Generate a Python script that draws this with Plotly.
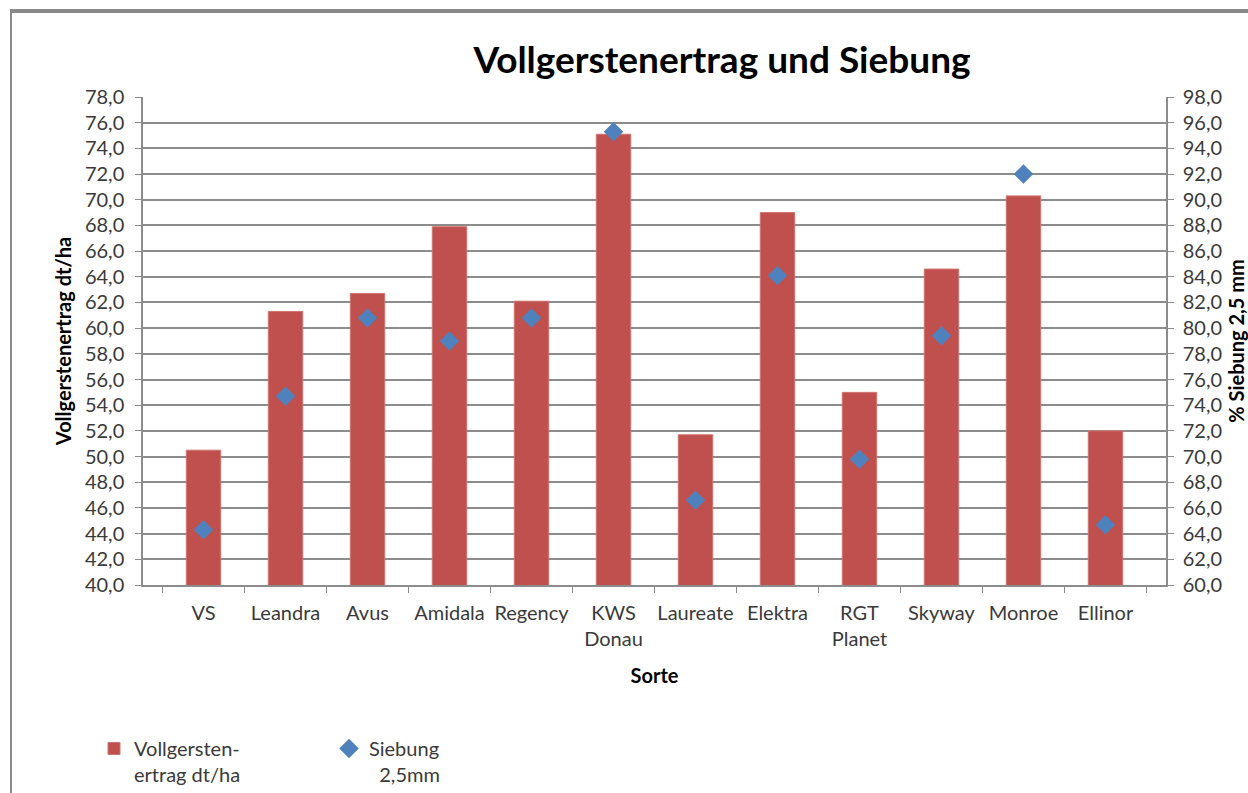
import plotly.graph_objects as go

sorten = ["VS", "Leandra", "Avus", "Amidala", "Regency", "KWS<br>Donau", "Laureate",
          "Elektra", "RGT<br>Planet", "Skyway", "Monroe", "Ellinor"]
ertrag = [50.5, 61.3, 62.7, 67.9, 62.1, 75.1, 51.7, 69.0, 55.0, 64.6, 70.3, 52.0]
siebung = [64.3, 74.7, 80.8, 79.0, 80.8, 95.3, 66.6, 84.1, 69.8, 79.4, 92.0, 64.7]

FONT = "Lato"
TXT = "#3a3a3a"
GRID = "#8c8c8c"
FS = 20

fig = go.Figure()
fig.add_trace(go.Bar(
    x=sorten, y=ertrag, name="Vollgersten-<br>ertrag dt/ha",
    marker=dict(color="#C0504D", line=dict(color="#D07470", width=1)),
    yaxis="y",
))
fig.add_trace(go.Scatter(
    x=sorten, y=siebung, name="Siebung<br>\u00a0\u00a02,5mm", mode="markers",
    marker=dict(symbol="diamond", color="#4F81BD", size=15),
    yaxis="y2",
))

fig.update_layout(
    width=1248, height=793,
    paper_bgcolor="white", plot_bgcolor="white",
    separators=",.",
    margin=dict(l=143, r=82, t=97, b=208, autoexpand=False),
    font=dict(family=FONT, size=FS, color=TXT),
    title=dict(text="<b>Vollgerstenertrag und Siebung</b>", x=0.5785, xanchor="center",
               y=1 - 60 / 793, yanchor="middle",
               font=dict(family=FONT, size=37, color="#000000")),
    bargap=0.58,
    showlegend=True,
    legend=dict(orientation="h", xref="container", yref="container",
                x=94 / 1248, xanchor="left", y=1 - 729 / 793, yanchor="top",
                font=dict(family=FONT, size=FS, color=TXT),
                entrywidth=190, entrywidthmode="pixels", valign="top",
                traceorder="normal"),
    xaxis=dict(
        type="category", showline=True, linecolor=GRID, linewidth=1.5,
        ticks="outside", tickson="boundaries", ticklen=6, tickcolor=GRID,
        showgrid=False, automargin=False, ticklabelstandoff=9, tickangle=0,
        title=dict(text="<b>Sorte</b>", standoff=20, font=dict(size=FS, color="#000")),
        tickfont=dict(size=FS, color=TXT),
    ),
    yaxis=dict(
        range=[40, 78], dtick=2, tickformat=".1f",
        showline=True, linecolor=GRID, linewidth=1.5,
        ticks="outside", ticklen=6, tickcolor=GRID,
        showgrid=True, gridcolor=GRID, gridwidth=1.5,
        zeroline=False, automargin=False, ticklabelstandoff=7,
        title=dict(text="<b>Vollgerstenertrag dt/ha</b>", standoff=8,
                   font=dict(size=FS, color="#000")),
        tickfont=dict(size=FS, color=TXT),
    ),
    yaxis2=dict(
        range=[60, 98], dtick=2, tickformat=".1f", overlaying="y", side="right",
        showline=True, linecolor=GRID, linewidth=1.5,
        ticks="outside", ticklen=6, tickcolor=GRID,
        showgrid=False, zeroline=False, automargin=False, ticklabelstandoff=5,
        title=dict(text="<b>% Siebung 2,5 mm</b>", standoff=15,
                   font=dict(size=FS, color="#000")),
        tickfont=dict(size=FS, color=TXT),
    ),
)

# outer chart frame (top and left edges visible in the reference)
W = 1248 - 143 - 82
H = 793 - 97 - 208
def px_x(px):
    return (px - 143) / W
def px_y(py):
    return (793 - 208 - py) / H
fig.add_shape(type="line", xref="paper", yref="paper",
              x0=px_x(10), x1=px_x(1260), y0=px_y(11), y1=px_y(11),
              line=dict(color="#8a8a8a", width=4))
fig.add_shape(type="line", xref="paper", yref="paper",
              x0=px_x(11), x1=px_x(11), y0=px_y(9), y1=px_y(800),
              line=dict(color="#8a8a8a", width=2))

fig.write_html("out.html", config={"displayModeBar": False},
               post_script="document.body.style.margin='0';document.body.style.overflow='hidden';")
